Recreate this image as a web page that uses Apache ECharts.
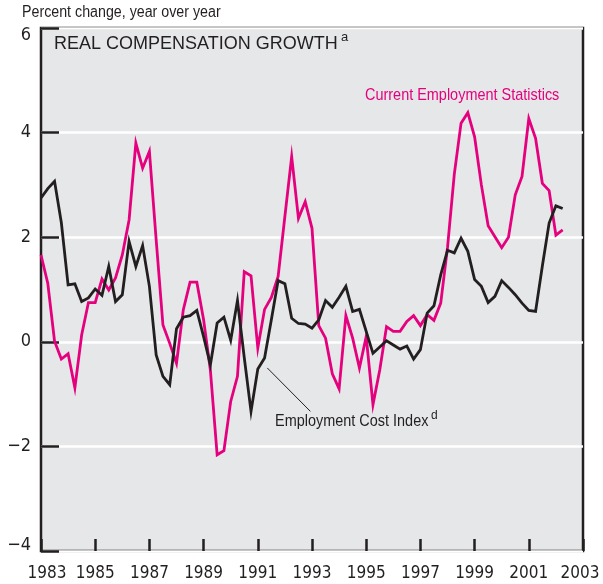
<!DOCTYPE html>
<html>
<head>
<meta charset="utf-8">
<script src="https://cdn.jsdelivr.net/npm/echarts@6/dist/echarts.min.js"></script>
<style>
	html, body { margin: 0; padding: 0; background: #fff; }
	#chart { width: 603px; height: 584px; }
</style>
</head>
<body>
<div id="chart"></div>
<script>
// quarterly observations, 1983Q1 .. 2002Q2
var startYear = 1983;
var yearTicks = [1983, 1985, 1987, 1989, 1991, 1993, 1995, 1997, 1999, 2001, 2003];

// Current Employment Statistics (magenta)
var cesValues = [
	1.66, 1.12, 0.01, -0.33, -0.23, -0.88, 0.13, 0.75, 0.75, 1.20,
	0.99, 1.22, 1.66, 2.33, 3.80, 3.32, 3.64, 1.95, 0.32, -0.03,
	-0.41, 0.61, 1.14, 1.14, 0.42, -0.54, -2.16, -2.08, -1.14, -0.66,
	1.34, 1.26, -0.12, 0.62, 0.85, 1.25, 2.40, 3.54, 2.36, 2.68,
	2.17, 0.31, 0.07, -0.61, -0.90, 0.50, 0.07, -0.50, 0.10, -1.20,
	-0.54, 0.29, 0.20, 0.20, 0.39, 0.50, 0.31, 0.52, 0.41, 0.74,
	1.80, 3.20, 4.18, 4.38, 3.92, 3.00, 2.22, 2.01, 1.80, 2.00,
	2.81, 3.16, 4.27, 3.89, 3.03, 2.89, 2.04, 2.14
];

// Employment Cost Index (black)
var eciValues = [
	2.75, 2.93, 3.07, 2.28, 1.09, 1.11, 0.77, 0.84, 1.01, 0.89,
	1.44, 0.77, 0.90, 1.92, 1.44, 1.84, 1.06, -0.25, -0.66, -0.82,
	0.25, 0.47, 0.50, 0.60, 0.10, -0.44, 0.36, 0.47, 0.03, 0.79,
	-0.30, -1.33, -0.52, -0.31, 0.42, 1.17, 1.11, 0.45, 0.35, 0.34,
	0.26, 0.42, 0.79, 0.66, 0.85, 1.06, 0.58, 0.62, 0.20, -0.22,
	-0.10, 0.02, -0.06, -0.14, -0.08, -0.33, -0.15, 0.55, 0.69, 1.28,
	1.75, 1.70, 1.98, 1.73, 1.19, 1.06, 0.75, 0.87, 1.17, 1.04,
	0.90, 0.74, 0.60, 0.58, 1.45, 2.27, 2.60, 2.55
];

// leader line from the ECI label to the curve (data coords)
var leaderFrom = [1991.35, -0.50];
var leaderTo = [1992.94, -1.33];

var INK = '#231f20';
var PINK = '#e5007e';
var NARROW = '"DejaVu Sans Condensed", "Liberation Sans Narrow", sans-serif';
var SANS = '"Liberation Sans", Arial, sans-serif';

function toPairs(values) {
	return values.map(function (v, i) {
		return [startYear + i / 4, v];
	});
}

// condensed look: plain sans squeezed horizontally
function narrowText(text, x, y, size, color, squeeze) {
	return {
		type: 'text',
		x: x,
		y: y,
		scaleX: squeeze,
		style: {
			text: text,
			fill: color,
			font: size + 'px ' + SANS,
			verticalAlign: 'top'
		}
	};
}

var mainChart = echarts.init(document.getElementById('chart'), null, { renderer: 'canvas' });

mainChart.setOption({
	animation: false,
	backgroundColor: '#ffffff',
	grid: {
		left: 41,
		right: 20,
		top: 28,
		bottom: 33,
		show: true,
		backgroundColor: '#e6e7e9',
		borderColor: INK,
		borderWidth: 2.5,
		outerBoundsMode: 'none'
	},
	xAxis: {
		type: 'value',
		min: yearTicks[0],
		max: yearTicks[yearTicks.length - 1],
		interval: 2,
		axisLine: { show: false, onZero: false },
		axisTick: {
			show: true,
			inside: true,
			length: 12,
			lineStyle: { color: INK, width: 2.5 }
		},
		splitLine: { show: false },
		axisLabel: {
			margin: 14,
			color: INK,
			fontFamily: NARROW,
			fontSize: 17,
			showMinLabel: true,
			showMaxLabel: true,
			formatter: function (v) {
				if (v === yearTicks[0]) return '{first|' + v + '}';
				if (v === yearTicks[yearTicks.length - 1]) return '{last|' + v + '}';
				return String(v);
			},
			rich: {
				first: { padding: [0, 0, 0, 12], fontFamily: NARROW, fontSize: 17, color: INK },
				last: { padding: [0, 6, 0, 0], fontFamily: NARROW, fontSize: 17, color: INK }
			}
		}
	},
	yAxis: {
		type: 'value',
		min: -4,
		max: 6,
		interval: 2,
		axisLine: { show: false },
		axisTick: {
			show: true,
			inside: true,
			length: 18,
			lineStyle: { color: INK, width: 2.5 }
		},
		splitLine: {
			show: true,
			lineStyle: { color: '#ffffff', width: 2.5 }
		},
		axisLabel: {
			margin: 10,
			color: INK,
			fontFamily: NARROW,
			fontSize: 18,
			formatter: function (v) {
				var s = v < 0 ? '\u2212' + Math.abs(v) : String(v);
				if (v === 6) return '{top|' + s + '}';
				if (v === -4) return '{bot|' + s + '}';
				return s;
			},
			rich: {
				top: { padding: [14, 0, 0, 0], fontFamily: NARROW, fontSize: 18, color: INK },
				bot: { padding: [0, 0, 12, 0], fontFamily: NARROW, fontSize: 18, color: INK }
			}
		}
	},
	series: [{
			name: 'Current Employment Statistics',
			type: 'line',
			data: toPairs(cesValues),
			showSymbol: false,
			z: 2,
			lineStyle: { color: PINK, width: 2.8, join: 'miter' }
		}, {
			name: 'Employment Cost Index',
			type: 'line',
			data: toPairs(eciValues),
			showSymbol: false,
			z: 3,
			lineStyle: { color: INK, width: 2.8, join: 'miter' },
			markLine: {
				silent: true,
				symbol: ['none', 'none'],
				label: { show: false },
				lineStyle: { color: INK, width: 1, type: 'solid' },
				data: [[{ coord: leaderFrom }, { coord: leaderTo }]]
			}
		}
	],
	graphic: [
		narrowText('Percent change, year over year', 22, 5, 16, INK, 0.89),
		{
			type: 'text',
			left: 54,
			top: 35,
			style: { text: 'REAL COMPENSATION GROWTH', fill: INK, font: '18px ' + SANS }
		}, {
			type: 'text',
			left: 341,
			top: 31,
			style: { text: 'a', fill: INK, font: '13px ' + SANS }
		},
		narrowText('Current Employment Statistics', 365, 87, 17, PINK, 0.85),
		narrowText('Employment Cost Index', 275, 413, 17, INK, 0.85),
		{
			type: 'text',
			left: 431,
			top: 410,
			style: { text: 'd', fill: INK, font: '12px ' + SANS }
		}
	]
});
</script>
</body>
</html>
